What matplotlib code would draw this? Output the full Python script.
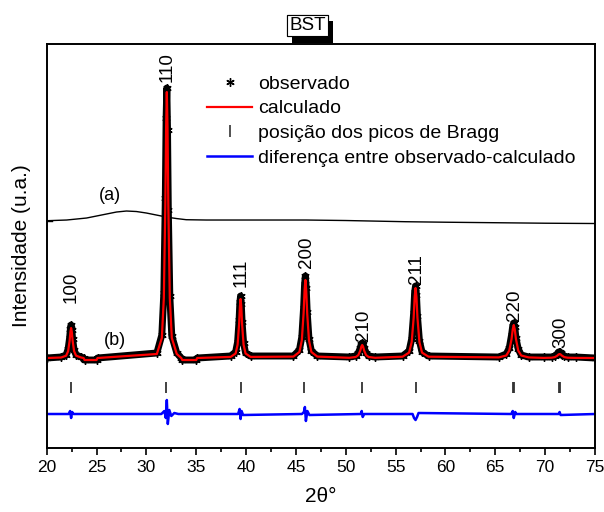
import matplotlib
matplotlib.use('Agg')
import matplotlib.pyplot as plt
from matplotlib.lines import Line2D
import matplotlib.patheffects as pe

plt.rcParams['font.family'] = ['Liberation Sans', 'DejaVu Sans']

# Padrão (b): 2theta, observado e calculado (u.a.)
two_theta = [
    20.0,
    21.45, 21.95, 22.15, 22.30, 22.38, 22.45, 22.52, 22.60, 22.75, 22.95, 23.45,
    23.7, 23.8, 25.0, 25.1,
    31.05, 31.55, 31.75, 31.90, 31.98, 32.05, 32.12, 32.20, 32.35, 32.55, 33.05,
    33.5, 33.6, 35.0, 35.1,
    38.45, 38.95, 39.15, 39.30, 39.38, 39.45, 39.52, 39.60, 39.75, 39.95, 40.45,
    44.75, 45.35, 45.59, 45.77, 45.87, 45.95, 46.03, 46.13, 46.31, 46.55, 47.15,
    50.35, 51.0, 51.26, 51.46, 51.56, 51.65, 51.74, 51.84, 52.04, 52.3, 52.95,
    55.7, 56.35, 56.61, 56.81, 56.91, 57.0, 57.09, 57.19, 57.39, 57.65, 58.3,
    65.35, 66.1, 66.4, 66.63, 66.75, 66.85, 66.95, 67.07, 67.3, 67.6, 68.35,
    69.85, 70.65, 70.97, 71.21, 71.34, 71.45, 71.56, 71.69, 71.93, 72.25, 73.05,
    75.0,
]
calculado = [
    90,
    90.5, 92.3, 96.8, 107.3, 116.1, 120, 116.1, 107.3, 96.8, 92.3, 90.5,
    90, 88, 88, 90,
    94, 110, 150, 243, 321, 356, 321, 243, 150, 110, 94,
    90, 88, 88, 90,
    91.1, 94.5, 103.3, 123.9, 141.3, 149, 141.3, 123.9, 103.3, 94.5, 91.1,
    91.4, 96, 107.6, 134.9, 157.9, 168, 157.9, 134.9, 107.6, 96, 91.4,
    90.2, 91, 92.9, 97.5, 101.3, 103, 101.3, 97.5, 92.9, 91, 90.2,
    91.3, 95.4, 105.8, 130.3, 150.9, 160, 150.9, 130.3, 105.8, 95.4, 91.3,
    90.6, 92.5, 97.4, 109, 118.7, 123, 118.7, 109, 97.4, 92.5, 90.6,
    90.1, 90.3, 90.9, 92.3, 93.5, 94, 93.5, 92.3, 90.9, 90.3, 90.1,
    90,
]
observado = [
    90,
    91, 93, 99, 110, 119, 123, 118, 109, 98, 93, 91,
    90, 88, 88, 90,
    95, 113, 155, 250, 330, 360, 318, 238, 152, 112, 95,
    90, 88, 88, 90,
    92, 96, 106, 128, 146, 152, 144, 126, 105, 95, 92,
    92, 98, 111, 140, 164, 172, 160, 136, 109, 97, 92,
    91, 92, 95, 100, 104, 105, 104, 100, 95, 92, 91,
    92, 97, 109, 135, 156, 162, 153, 132, 107, 96, 92,
    91, 94, 100, 113, 122, 125, 121, 110, 99, 93, 91,
    91, 91, 92, 94, 96, 96, 95, 93, 92, 91, 91,
    90,
]

# Padrão (a)
theta_a = [20, 22, 24, 26, 27, 28, 29, 30, 31, 32, 33, 34, 36, 40, 46, 50, 56, 60, 65, 70, 75]
inten_a = [227.3, 228, 230, 234, 236, 237, 236.5, 235, 233, 231, 229.5, 228.3, 228, 228,
           228, 227.5, 226.3, 225.8, 225.3, 224.8, 224.5]

# Diferença observado-calculado
theta_dif = [20, 22.2, 22.35, 22.45, 22.55, 22.7, 31.5, 31.8, 31.95, 32.05, 32.15, 32.3,
             32.5, 32.8, 33.2, 39.2, 39.35, 39.45, 39.55, 39.7, 45.6, 45.8, 45.9, 46.0,
             46.15, 46.35, 51.5, 51.6, 51.7, 51.85, 56.7, 56.85, 57.0, 57.15, 57.3,
             66.6, 66.75, 66.85, 67.0, 67.1, 71.35, 71.45, 71.55, 75]
diferenca = [34, 34, 37, 30, 36, 34, 34, 37, 30, 48, 24, 38,
             32, 35, 34, 34, 39, 29, 37, 33, 34, 36, 41, 27,
             37, 33, 34, 37, 31, 34, 34, 30, 28, 31, 35,
             34, 37, 30, 36, 34, 34, 36, 33, 34]

# Posições dos picos de Bragg
bragg = [22.45, 32.0, 39.45, 45.8, 51.6, 57.0, 66.75, 66.9, 71.35, 71.5]

# Índices de Miller
hkl = ['100', '110', '111', '200', '210', '211', '220', '300']
hkl_x = [22.5, 32.1, 39.55, 46.1, 51.8, 57.1, 66.95, 71.55]
hkl_y = [145, 366, 161, 180, 107, 164, 127, 100]

fig = plt.figure(figsize=(6.04, 5.12), dpi=100)
ax = fig.add_axes([0.0773, 0.125, 0.9078, 0.789])

ax.plot(theta_a, inten_a, color='k', lw=1)
# pequena marca de deslocamento no eixo esquerdo
ax.plot([theta_a[0], theta_a[0] + 0.5], [inten_a[0], inten_a[0]], color='k', lw=1)
ax.plot(two_theta, observado, color='k', lw=5, solid_joinstyle='round')
ax.plot(two_theta, observado, ls='none', marker=(6, 2, 0), ms=6, mec='k', mew=1)
ax.plot(two_theta, calculado, color='red', lw=1.6)
ax.vlines(bragg, 55, 66, color='#333333', lw=1.3)
ax.plot(theta_dif, diferenca, color='blue', lw=1.8)

for lab, xx, yy in zip(hkl, hkl_x, hkl_y):
    ax.text(xx, yy, lab, rotation=90, ha='center', va='bottom', fontsize=13.5)

ax.text(26.3, 253, '(a)', ha='center', va='center', fontsize=13)
ax.text(26.8, 108, '(b)', ha='center', va='center', fontsize=13)

ax.set_xlim(20, 75)
ax.set_ylim(0, 404)
ax.set_xticks(range(20, 80, 5))
ax.set_xticks([x + 2.5 for x in range(20, 75, 5)], minor=True)
ax.set_yticks([])
ax.tick_params(axis='x', which='major', direction='out', length=5, width=1.2,
               labelsize=12.5, pad=4)
ax.tick_params(axis='x', which='minor', direction='out', length=3, width=1.2)
for s in ax.spines.values():
    s.set_linewidth(1.4)

ax.set_xlabel('2θ°', fontsize=15, labelpad=8)
ax.set_ylabel('Intensidade (u.a.)', fontsize=15, labelpad=11)

handles = [
    Line2D([], [], ls='none', marker=(6, 2, 0), ms=6, mec='k', mew=1),
    Line2D([], [], color='red', lw=1.6),
    Line2D([], [], ls='none', marker='|', ms=8, mec='#333333', mew=1.2),
    Line2D([], [], color='blue', lw=1.8),
]
labels = ['observado', 'calculado', 'posição dos picos de Bragg',
          'diferença entre observado-calculado']
ax.legend(handles, labels, loc='upper left', bbox_to_anchor=(0.343, 0.853),
          bbox_transform=fig.transFigure, frameon=False, fontsize=14,
          handlelength=2.3, handletextpad=0.3, labelspacing=0.36,
          borderpad=0, borderaxespad=0)

t = fig.text(0.509, 0.950, 'BST', ha='center', va='center', fontsize=13.5,
             bbox=dict(boxstyle='square,pad=0.12', fc='white', ec='k', lw=0.8))
t.get_bbox_patch().set_path_effects([
    pe.withSimplePatchShadow(offset=(4, -4.5), shadow_rgbFace='k', alpha=1),
    pe.Normal()])

fig.savefig('out.png', dpi=100)
